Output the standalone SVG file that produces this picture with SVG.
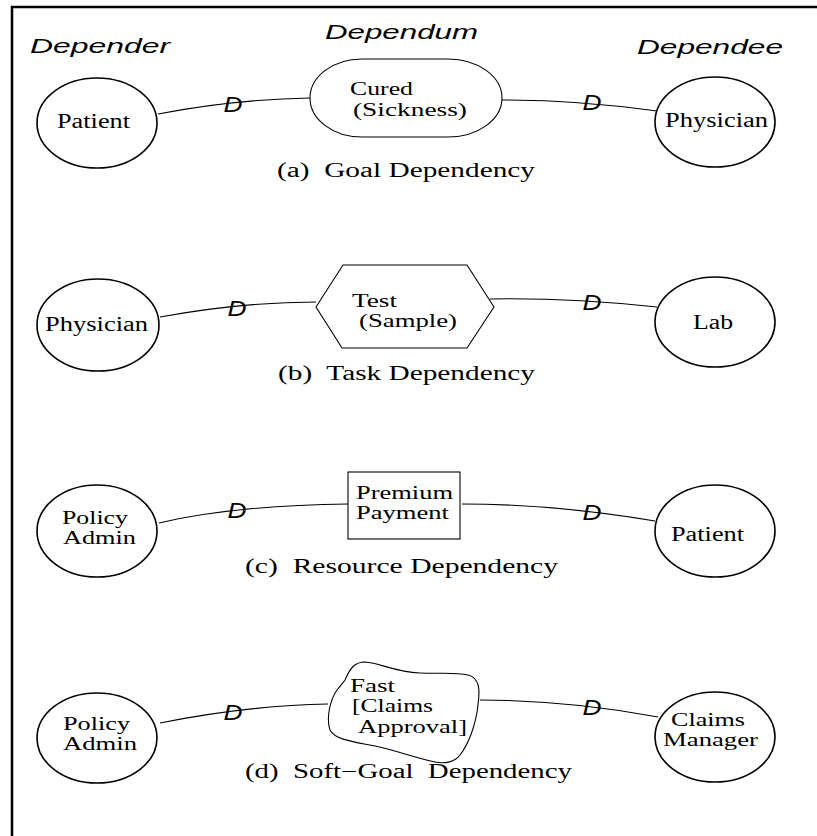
<svg xmlns="http://www.w3.org/2000/svg" width="817" height="836" viewBox="0 0 817 836">
<style>
  .frame{fill:none;stroke:#000;stroke-width:2.5}
  .actor{fill:#fff;stroke:#000;stroke-width:1.6}
  .dep{fill:#fff;stroke:#000;stroke-width:1.1}
  .conn{fill:none;stroke:#000;stroke-width:1.1}
  .lbl{font-family:"Liberation Serif","Times New Roman",serif;font-size:20px;fill:#000}
  .lbl2{font-family:"Liberation Serif","Times New Roman",serif;font-size:18px;fill:#000}
  .cap{font-family:"Liberation Serif","Times New Roman",serif;font-size:20px;fill:#000}
  .role{font-family:"Liberation Sans",Arial,sans-serif;font-style:italic;font-size:21px;fill:#000}
  .dmark{font-family:"Liberation Sans",Arial,sans-serif;font-style:italic;font-size:22px;fill:#000;text-anchor:middle}
</style>
<rect width="817" height="836" fill="#fff"/>
<path class="frame" d="M12,836 L12,7 L817,7"/>

<g id="roles">
  <text class="role" x="30" y="53" textLength="140" lengthAdjust="spacingAndGlyphs">Depender</text>
  <text class="role" x="325" y="39" textLength="153" lengthAdjust="spacingAndGlyphs">Dependum</text>
  <text class="role" x="637" y="54" textLength="146" lengthAdjust="spacingAndGlyphs">Dependee</text>
</g>

<g id="connectors">
  <path class="conn" d="M158,114 C200,106 250,99 310,98"/>
  <path class="conn" d="M502,100 C550,100 600,103 657,111"/>
  <path class="conn" d="M160,317 C210,308 260,302 316,302"/>
  <path class="conn" d="M490,299 C545,298 600,301 657,307"/>
  <path class="conn" d="M159,523 C210,511 270,505 348,504"/>
  <path class="conn" d="M462,504 C530,504 590,510 655,521"/>
  <path class="conn" d="M160,723 C215,712 270,705 328,704"/>
  <path class="conn" d="M480,700 C545,700 600,706 658,717"/>
  <text class="dmark" x="233" y="112" textLength="19" lengthAdjust="spacingAndGlyphs">D</text>
  <text class="dmark" x="592" y="110" textLength="19" lengthAdjust="spacingAndGlyphs">D</text>
  <text class="dmark" x="237" y="316" textLength="19" lengthAdjust="spacingAndGlyphs">D</text>
  <text class="dmark" x="592" y="310" textLength="19" lengthAdjust="spacingAndGlyphs">D</text>
  <text class="dmark" x="237" y="518" textLength="19" lengthAdjust="spacingAndGlyphs">D</text>
  <text class="dmark" x="592" y="520" textLength="19" lengthAdjust="spacingAndGlyphs">D</text>
  <text class="dmark" x="233" y="720" textLength="19" lengthAdjust="spacingAndGlyphs">D</text>
  <text class="dmark" x="592" y="715" textLength="19" lengthAdjust="spacingAndGlyphs">D</text>
</g>

<!-- (a) Goal dependency -->
<g id="a-patient">
  <ellipse class="actor" cx="97" cy="123" rx="60" ry="45"/>
  <text class="lbl" x="57" y="128" textLength="73" lengthAdjust="spacingAndGlyphs">Patient</text>
</g>
<g id="a-goal">
  <path class="dep" d="M362,59 L448,59 A54,39 0 0 1 448,137 L362,137 A52,39 0 0 1 362,59 Z"/>
  <text class="lbl2" x="350" y="95" textLength="63" lengthAdjust="spacingAndGlyphs">Cured</text>
  <text class="lbl2" x="353" y="116" textLength="114" lengthAdjust="spacingAndGlyphs">(Sickness)</text>
</g>
<g id="a-physician">
  <ellipse class="actor" cx="715" cy="122" rx="60" ry="45"/>
  <text class="lbl" x="665" y="127" textLength="103" lengthAdjust="spacingAndGlyphs">Physician</text>
</g>
<text class="cap" x="277" y="177" textLength="258" lengthAdjust="spacingAndGlyphs" xml:space="preserve">(a)  Goal Dependency</text>

<!-- (b) Task dependency -->
<g id="b-physician">
  <ellipse class="actor" cx="98" cy="325" rx="61" ry="46"/>
  <text class="lbl" x="45" y="331" textLength="103" lengthAdjust="spacingAndGlyphs">Physician</text>
</g>
<g id="b-task">
  <polygon class="dep" points="316,307 343,265 467,265 494,307 467,348 342,348"/>
  <text class="lbl2" x="352" y="307" textLength="45" lengthAdjust="spacingAndGlyphs">Test</text>
  <text class="lbl2" x="359" y="327" textLength="98" lengthAdjust="spacingAndGlyphs">(Sample)</text>
</g>
<g id="b-lab">
  <ellipse class="actor" cx="715" cy="322" rx="60" ry="45"/>
  <text class="lbl" x="693" y="329" textLength="40" lengthAdjust="spacingAndGlyphs">Lab</text>
</g>
<text class="cap" x="278" y="380" textLength="257" lengthAdjust="spacingAndGlyphs" xml:space="preserve">(b)  Task Dependency</text>

<!-- (c) Resource dependency -->
<g id="c-policy">
  <ellipse class="actor" cx="97" cy="531" rx="60" ry="46"/>
  <text class="lbl2" x="62" y="524" textLength="66" lengthAdjust="spacingAndGlyphs">Policy</text>
  <text class="lbl2" x="63" y="544" textLength="73" lengthAdjust="spacingAndGlyphs">Admin</text>
</g>
<g id="c-resource">
  <rect class="dep" x="348" y="472" width="112" height="67"/>
  <text class="lbl2" x="356" y="499" textLength="97" lengthAdjust="spacingAndGlyphs">Premium</text>
  <text class="lbl2" x="356" y="519" textLength="93" lengthAdjust="spacingAndGlyphs">Payment</text>
</g>
<g id="c-patient">
  <ellipse class="actor" cx="715" cy="531" rx="60" ry="46"/>
  <text class="lbl" x="671" y="541" textLength="73" lengthAdjust="spacingAndGlyphs">Patient</text>
</g>
<text class="cap" x="245" y="573" textLength="313" lengthAdjust="spacingAndGlyphs" xml:space="preserve">(c)  Resource Dependency</text>

<!-- (d) Soft-goal dependency -->
<g id="d-policy">
  <ellipse class="actor" cx="97" cy="738" rx="60" ry="45"/>
  <text class="lbl2" x="63" y="730" textLength="67" lengthAdjust="spacingAndGlyphs">Policy</text>
  <text class="lbl2" x="63" y="750" textLength="74" lengthAdjust="spacingAndGlyphs">Admin</text>
</g>
<g id="d-softgoal">
  <path class="dep" d="M345,680 C350,668 355,662 365,662 C380,663 395,672 420,673 C440,674 455,672 468,675 C480,678 480,690 478,705 C476,725 468,745 460,755 C455,762 445,764 435,762 C415,758 395,750 375,746 C355,742 335,740 330,730 C326,718 330,700 337,690 C340,686 343,683 345,680 Z"/>
  <text class="lbl2" x="350" y="692" textLength="45" lengthAdjust="spacingAndGlyphs">Fast</text>
  <text class="lbl2" x="352" y="712" textLength="81" lengthAdjust="spacingAndGlyphs">[Claims</text>
  <text class="lbl2" x="358" y="733" textLength="109" lengthAdjust="spacingAndGlyphs">Approval]</text>
</g>
<g id="d-claims">
  <ellipse class="actor" cx="715" cy="737" rx="60" ry="45"/>
  <text class="lbl2" x="671" y="726" textLength="74" lengthAdjust="spacingAndGlyphs">Claims</text>
  <text class="lbl2" x="663" y="746" textLength="95" lengthAdjust="spacingAndGlyphs">Manager</text>
</g>
<text class="cap" x="245" y="778" textLength="327" lengthAdjust="spacingAndGlyphs" xml:space="preserve">(d)  Soft−Goal  Dependency</text>
</svg>
